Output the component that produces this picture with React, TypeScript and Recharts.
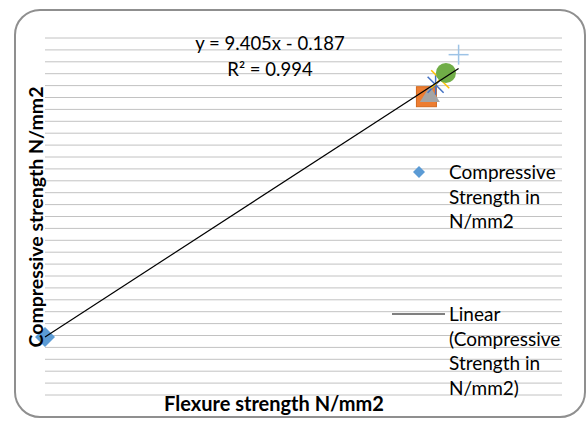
import React from 'react'
import { ScatterChart, Scatter, XAxis, YAxis, CartesianGrid } from 'recharts'

// values (flexure vs compressive strength, N/mm2)
const compressive = [{ x: 0, y: -0.2 }]
const squarePts = [{ x: 3.32, y: 30.1 }]
const trianglePts = [{ x: 3.35, y: 30.3 }]
const starPts = [{ x: 3.4, y: 31.6 }]
const crossPts = [{ x: 3.44, y: 32.3 }]
const circlePts = [{ x: 3.49, y: 33.1 }]
const plusPts = [{ x: 3.6, y: 35.4 }]
// linear trendline y = 9.405x - 0.187, ends
const trendPts = [
  { x: 0, y: -0.19 },
  { x: 3.6, y: 33.67 },
]
const yTicks = [
  -7.5, -6, -4.5, -3, -1.5, 0, 1.5, 3, 4.5, 6, 7.5, 9, 10.5, 12, 13.5, 15, 16.5, 18, 19.5, 21, 22.5, 24,
  25.5, 27, 28.5, 30, 31.5, 33, 34.5, 36, 37.5,
]
const xDomain = [0, 4.5]
const yDomain = [-7.5, 37.5]

const FONT = 'Lato, "Open Sans", sans-serif'

const Diamond = ({ cx, cy }: any) => (
  <path d={`M${cx},${cy - 10} L${cx + 10},${cy} L${cx},${cy + 10} L${cx - 10},${cy} Z`} fill="#5b9bd5" />
)
const Square = ({ cx, cy }: any) => (
  <rect x={cx - 10} y={cy - 10} width={20} height={20} fill="#ed7d31" stroke="#d2691e" strokeWidth={1} />
)
const Triangle = ({ cx, cy }: any) => (
  <path d={`M${cx},${cy - 9} L${cx + 10},${cy + 7} L${cx - 10},${cy + 7} Z`} fill="#a5a5a5" />
)
const Star = ({ cx, cy }: any) => (
  <g stroke="#4472c4" strokeWidth={1.5}>
    <line x1={cx - 8} y1={cy - 8} x2={cx + 8} y2={cy + 8} />
    <line x1={cx - 8} y1={cy + 8} x2={cx + 8} y2={cy - 8} />
    <line x1={cx} y1={cy - 10} x2={cx} y2={cy + 10} />
  </g>
)
const XMark = ({ cx, cy }: any) => (
  <g stroke="#ffc000" strokeWidth={1.5}>
    <line x1={cx - 9} y1={cy - 9} x2={cx + 9} y2={cy + 9} />
    <line x1={cx - 9} y1={cy + 9} x2={cx + 9} y2={cy - 9} />
  </g>
)
const Circle = ({ cx, cy }: any) => <circle cx={cx} cy={cy} r={10} fill="#70ad47" />
const Plus = ({ cx, cy }: any) => (
  <g stroke="#9dc3e6" strokeWidth={1.5}>
    <line x1={cx - 10} y1={cy} x2={cx + 10} y2={cy} />
    <line x1={cx} y1={cy - 10} x2={cx} y2={cy + 10} />
  </g>
)
const NoDot = () => <g />

const legendText: React.CSSProperties = {
  position: 'absolute',
  left: 449,
  fontFamily: FONT,
  fontSize: 19,
  lineHeight: '24.5px',
  color: '#000',
  whiteSpace: 'nowrap',
}

function ChartLegend() {
  return (
    <div style={{ position: 'absolute', left: 0, top: 0, width: 587, height: 421, pointerEvents: 'none' }}>
      <svg style={{ position: 'absolute', left: 0, top: 0 }} width={587} height={421}>
        <path d="M419,166 L425,172 L419,178 L413,172 Z" fill="#5b9bd5" />
        <line x1={392} y1={314} x2={445} y2={314} stroke="#000" strokeWidth={1} />
      </svg>
      <div style={{ ...legendText, top: 160 }}>
        Compressive
        <br />
        Strength in
        <br />
        N/mm2
      </div>
      <div style={{ ...legendText, top: 302 }}>
        Linear
        <br />
        (Compressive
        <br />
        Strength in
        <br />
        N/mm2)
      </div>
    </div>
  )
}

export default function App() {
  return (
    <div style={{ position: 'absolute', left: 0, top: 0, width: 587, height: 421, background: '#fff' }}>
      {/* chart border */}
      <div
        style={{
          position: 'absolute',
          left: 14,
          top: 9,
          width: 568,
          height: 405,
          border: '2px solid #8f8f8f',
          borderRadius: 26,
        }}
      />
      <div style={{ position: 'absolute', left: 0, top: 0 }}>
        <ScatterChart width={587} height={421} margin={{ top: 38, right: 25, bottom: 26, left: 45 }}>
          <CartesianGrid vertical={false} stroke="#c2c2c2" horizontalValues={yTicks} />
          <XAxis type="number" dataKey="x" domain={xDomain} hide />
          <YAxis type="number" dataKey="y" domain={yDomain} ticks={yTicks} interval={0} hide />
          <Scatter data={squarePts} shape={Square} isAnimationActive={false} />
          <Scatter data={trianglePts} shape={Triangle} isAnimationActive={false} />
          <Scatter data={starPts} shape={Star} isAnimationActive={false} />
          <Scatter data={crossPts} shape={XMark} isAnimationActive={false} />
          <Scatter data={circlePts} shape={Circle} isAnimationActive={false} />
          <Scatter data={plusPts} shape={Plus} isAnimationActive={false} />
          <Scatter name="Compressive Strength in N/mm2" data={compressive} shape={Diamond} isAnimationActive={false} />
          <Scatter
            name="Linear (Compressive Strength in N/mm2)"
            data={trendPts}
            line={{ stroke: '#000', strokeWidth: 1.2 }}
            shape={NoDot}
            isAnimationActive={false}
          />
        </ScatterChart>
      </div>
      <ChartLegend />
      {/* trendline equation */}
      <div
        style={{
          position: 'absolute',
          left: 170,
          top: 30,
          width: 200,
          textAlign: 'center',
          fontFamily: FONT,
          fontSize: 18.5,
          lineHeight: '26px',
        }}
      >
        y = 9.405x - 0.187
        <br />
        R² = 0.994
      </div>
      {/* axis titles */}
      <div
        style={{
          position: 'absolute',
          left: 124,
          top: 391,
          width: 300,
          textAlign: 'center',
          fontFamily: FONT,
          fontWeight: 'bold',
          fontSize: 20,
          lineHeight: '24px',
        }}
      >
        Flexure strength N/mm2
      </div>
      <div
        style={{
          position: 'absolute',
          left: 36,
          top: 217,
          width: 320,
          textAlign: 'center',
          fontFamily: FONT,
          fontWeight: 'bold',
          fontSize: 19.5,
          lineHeight: '24px',
          transform: 'translate(-50%, -50%) rotate(-90deg)',
        }}
      >
        Compressive strength N/mm2
      </div>
    </div>
  )
}
